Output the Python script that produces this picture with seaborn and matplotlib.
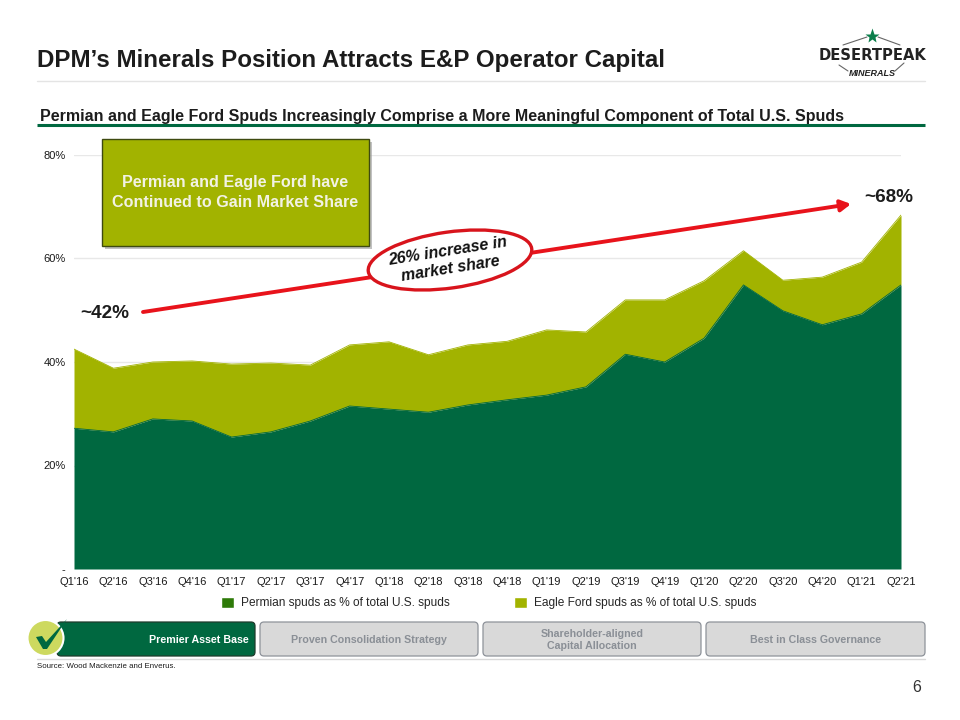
import matplotlib
matplotlib.use("Agg")
import matplotlib.pyplot as plt
import seaborn as sns
import pandas as pd
from matplotlib.patches import FancyBboxPatch, Rectangle, Ellipse, Circle, Patch, Polygon
from matplotlib.ticker import FuncFormatter

quarters = ["Q1'16","Q2'16","Q3'16","Q4'16","Q1'17","Q2'17","Q3'17","Q4'17","Q1'18","Q2'18","Q3'18",
            "Q4'18","Q1'19","Q2'19","Q3'19","Q4'19","Q1'20","Q2'20","Q3'20","Q4'20","Q1'21","Q2'21"]
permian = [27.2,26.5,29.0,28.6,25.5,26.5,28.6,31.5,30.9,30.3,31.7,32.7,33.6,35.2,41.5,40.0,44.6,54.9,49.9,47.2,49.3,54.9]
combined = [42.5,38.8,40.0,40.2,39.6,39.8,39.4,43.3,43.9,41.4,43.3,44.0,46.2,45.8,52.0,52.0,55.7,61.5,55.8,56.4,59.3,68.4]
y_ticks = [0,20,40,60,80]

GREEN = "#006840"; OLIVE = "#A2B300"; RED = "#E8131B"

sns.set_theme(style="white")
plt.rcParams["font.family"] = ["Liberation Sans", "DejaVu Sans"]
df = pd.DataFrame({"q": range(len(quarters)), "permian": permian, "combined": combined})

W, H = 960, 720
fig = plt.figure(figsize=(9.6, 7.2), dpi=100, facecolor="white")
ax = fig.add_axes([74/W, 1-569/H, (901-74)/W, (569-155)/H])
ax.fill_between(df.q, df.permian, df.combined, color=OLIVE, lw=0, zorder=2)
ax.fill_between(df.q, 0, df.permian, color=GREEN, lw=0, zorder=2)
sns.lineplot(data=df, x="q", y="combined", ax=ax, color=OLIVE, lw=0.6, zorder=3)
sns.lineplot(data=df, x="q", y="permian", ax=ax, color=GREEN, lw=0.6, zorder=3)
ax.set_xlim(0, len(quarters)-1); ax.set_ylim(0, 80)
ax.set_xticks(list(df.q)); ax.set_xticklabels(quarters, fontsize=8, color="#1a1a1a")
ax.set_yticks(y_ticks)
ax.yaxis.set_major_formatter(FuncFormatter(lambda v, _: "-" if v == 0 else f"{v:.0f}%"))
ax.tick_params(axis="y", labelsize=8, length=0, pad=6, labelcolor="#1a1a1a")
ax.tick_params(axis="x", length=0, pad=5.5)
ax.set_xlabel(""); ax.set_ylabel("")
ax.grid(axis="y", color="#E8E8E8", lw=1, zorder=0)
ax.set_axisbelow(True)
for s in ax.spines.values(): s.set_visible(False)

fig.legend(handles=[Patch(facecolor="#2E7A08", label="Permian spuds as % of total U.S. spuds"),
                    Patch(facecolor=OLIVE, label="Eagle Ford spuds as % of total U.S. spuds")],
           ncol=2, frameon=False, fontsize=8.55, loc="center left",
           bbox_to_anchor=(220.5/W, 1-603/H), handlelength=1.15, handleheight=1.1,
           handletextpad=0.55, columnspacing=5.4, borderpad=0, borderaxespad=0)

# pixel-space overlay
ov = fig.add_axes([0,0,1,1], zorder=5); ov.set_xlim(0,W); ov.set_ylim(H,0); ov.axis("off"); ov.patch.set_alpha(0)
ov.text(37, 61, "DPM’s Minerals Position Attracts E&P Operator Capital", fontsize=17.35, fontweight="bold", color="#1c1c1c", va="center")
ov.plot([37,925],[80.5,80.5], color="#E4E4E4", lw=1)
ov.text(40, 116, "Permian and Eagle Ford Spuds Increasingly Comprise a More Meaningful Component of Total U.S. Spuds",
        fontsize=11.52, fontweight="bold", color="#1c1c1c", va="center")
ov.plot([37,925],[125,125], color=GREEN, lw=2.2, solid_capstyle="butt")

# logo
ov.text(872, 55, "DESERTPEAK", fontsize=10.6, fontweight="bold", family="DejaVu Sans", color="#222222", ha="center", va="center")
ov.plot([872],[36], marker="*", ms=11, color="#0B7E4B", mec="none")
ov.plot([843,867],[45,37], color="#666666", lw=0.8); ov.plot([878,900],[37,45], color="#666666", lw=0.8)
ov.text(872, 73, "MINERALS", fontsize=6.5, fontweight="bold", style="italic", color="#222222", ha="center", va="center")
ov.plot([839,848],[65,71], color="#666666", lw=0.8); ov.plot([895,904],[71,63], color="#666666", lw=0.8)

# callout box
ov.add_patch(Rectangle((105,142),267,107, facecolor="#999999", edgecolor="none", alpha=0.6))
ov.add_patch(Rectangle((102,139),267,107, facecolor=OLIVE, edgecolor="#3E4A10", lw=1))
ov.text(235.5, 192.5, "Permian and Eagle Ford have\nContinued to Gain Market Share", fontsize=11.6, fontweight="bold",
        color="#F2F2E4", ha="center", va="center", linespacing=1.35)

# arrow
ov.annotate("", xy=(851,204), xytext=(143,312),
            arrowprops=dict(arrowstyle="-|>,head_length=0.5,head_width=0.28", color=RED, lw=2.8, shrinkA=0, shrinkB=0))
ov.add_patch(Ellipse((450,260),165,56,angle=-8, facecolor="white", edgecolor="#D8141C", lw=2.4, zorder=4))
ov.text(449, 260, "26% increase in\nmarket share", fontsize=11.5, fontweight="bold", style="italic", rotation=9,
        rotation_mode="anchor", ha="center", va="center", color="#111111", zorder=5, linespacing=1.25)
ov.text(80, 313, "~42%", fontsize=13.6, fontweight="bold", color="#1c1c1c", va="center")
ov.text(864, 197, "~68%", fontsize=13.6, fontweight="bold", color="#1c1c1c", va="center")

# navigation buttons
def button(x0, x1, text, fc, ec, tc, cx=None):
    ov.add_patch(FancyBboxPatch((x0+3,625),x1-x0-6,28, boxstyle="round,pad=3,rounding_size=4",
                                facecolor=fc, edgecolor=ec, lw=0.9))
    ov.text(cx if cx else (x0+x1)/2, 640, text, fontsize=7.7, fontweight="bold", color=tc, ha="center", va="center", linespacing=1.3)
button(57,255,"Premier Asset Base",GREEN,"#1F3B2C","white",cx=199)
button(260,478,"Proven Consolidation Strategy","#D9D9D9","#8E939A","#8A8F96")
button(483,701,"Shareholder-aligned\nCapital Allocation","#D9D9D9","#8E939A","#8A8F96")
button(706,925,"Best in Class Governance","#D9D9D9","#8E939A","#8A8F96")
ov.add_patch(Circle((45.5,638),18, facecolor="#CDD95F", edgecolor="white", lw=1.5, zorder=6))
ov.add_patch(Polygon([(36,637),(42,636),(46,642),(67,619),(47,649),(43,649)], closed=True, facecolor=GREEN, edgecolor="none", zorder=7))

ov.plot([37,925],[659,659], color="#D9D9D9", lw=1)
ov.text(37, 667, "Source: Wood Mackenzie and Enverus.", fontsize=5.65, color="#1c1c1c", va="center")
ov.text(921, 688, "6", fontsize=11.5, color="#333333", ha="right", va="center")

fig.savefig("out.png", dpi=100, facecolor="white")
